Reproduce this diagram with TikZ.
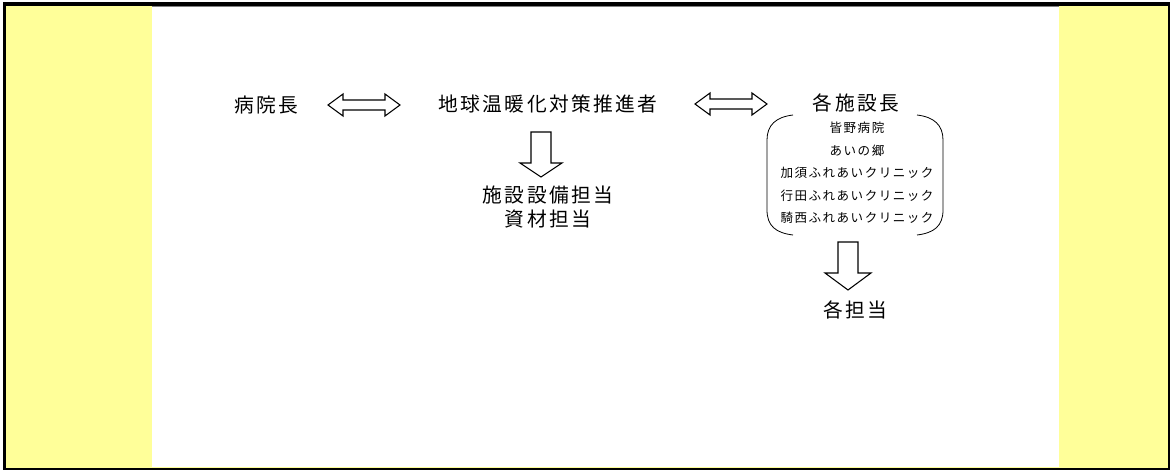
\documentclass[tikz,border=0pt]{standalone}
\usepackage{fontspec}
\usetikzlibrary{calc}
\newfontfamily\jp[LetterSpace=12]{Noto Sans CJK JP}
\definecolor{paleyellow}{HTML}{FFFF99}
\begin{document}
\begin{tikzpicture}[x=0.75pt,y=-0.75pt,
  txt/.style={font=\jp\fontsize{14.8}{18}\selectfont, inner sep=0pt},
  small/.style={font=\jp\fontsize{9.4}{12}\selectfont, inner sep=0pt},
  blockarrow/.style={draw=black, line width=0.8pt, fill=white, line join=miter},
  bracketline/.style={draw=black, line width=0.6pt}]
\useasboundingbox (0,0) rectangle (1171,470);
% frame and background
\fill[black] (3,2) rectangle (1170,470);
\fill[paleyellow] (6,6) rectangle (1168,468);
\fill[white] (152,6) rectangle (1059,467);
\draw[gray, line width=0.9pt] (152,6.5) -- (1059,6.5);
% text nodes
\node[txt] (director) at (266,105) {病院長};
\node[txt] (promoter) at (548,104) {地球温暖化対策推進者};
\node[txt] (heads) at (856,103) {各施設長};
\node[txt] (facility) at (548,195) {施設設備担当};
\node[txt] (material) at (548,219) {資材担当};
\node[txt] (each) at (855,310) {各担当};
\node[small] (h1) at (857,128) {皆野病院};
\node[small] (h2) at (857,151) {あいの郷};
\node[small] (h3) at (857,173) {加須ふれあいクリニック};
\node[small] (h4) at (857,196) {行田ふれあいクリニック};
\node[small] (h5) at (857,218) {騎西ふれあいクリニック};
% double block arrows
\coordinate (a1l) at (328,105); \coordinate (a1r) at (400,105);
\draw[blockarrow] (a1l) -- ++(15,-11) -- ++(0,6) -- ($(a1r)+(-15,-5)$) -- ++(0,-6) -- (a1r)
  -- ++(-15,11) -- ++(0,-6) -- ($(a1l)+(15,5)$) -- ++(0,6) -- cycle;
\coordinate (a2l) at (695,104); \coordinate (a2r) at (767,104);
\draw[blockarrow] (a2l) -- ++(15,-11) -- ++(0,6) -- ($(a2r)+(-15,-5)$) -- ++(0,-6) -- (a2r)
  -- ++(-15,11) -- ++(0,-6) -- ($(a2l)+(15,5)$) -- ++(0,6) -- cycle;
% down block arrows
\coordinate (d1) at (541,132); \coordinate (d1t) at (541,177);
\draw[blockarrow] ($(d1)+(-10,0)$) -- ($(d1)+(10,0)$) -- ($(d1)+(10,31)$) -- ($(d1)+(21,31)$)
  -- (d1t) -- ($(d1)+(-21,31)$) -- ($(d1)+(-10,31)$) -- cycle;
\coordinate (d2) at (848,242); \coordinate (d2t) at (848,290);
\draw[blockarrow] ($(d2)+(-10,0)$) -- ($(d2)+(10,0)$) -- ($(d2)+(10,31)$) -- ($(d2)+(23,31)$)
  -- (d2t) -- ($(d2)+(-23,31)$) -- ($(d2)+(-10,31)$) -- cycle;
% bracket pair
\draw[bracketline] (793,115) .. controls (776,117) and (767,125) .. (767,140) -- (767,210)
  .. controls (767,226) and (776,233) .. (793,235);
\draw[bracketline] (917,115) .. controls (934,117) and (943,125) .. (943,140) -- (943,210)
  .. controls (943,226) and (934,233) .. (917,235);
\end{tikzpicture}
\end{document}
